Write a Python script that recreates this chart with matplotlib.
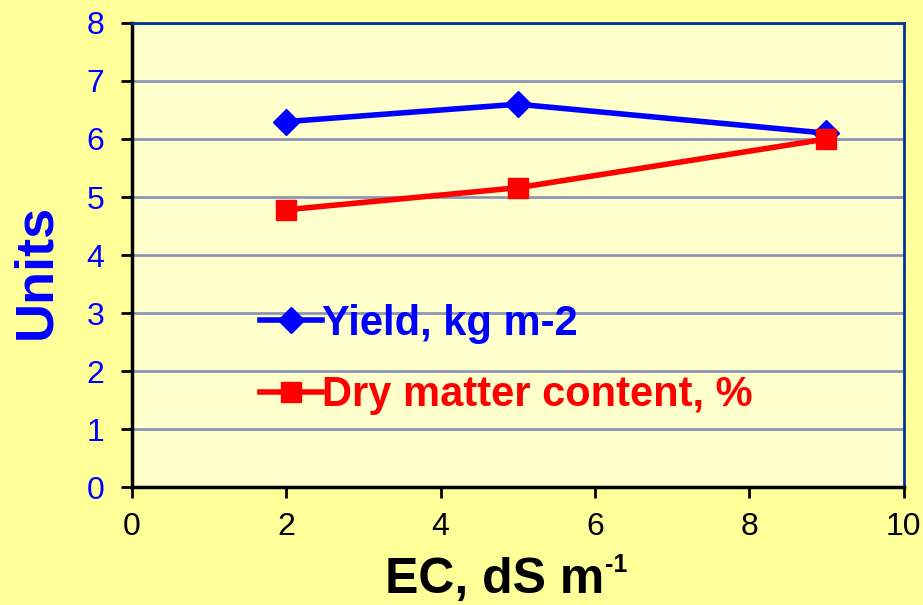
import matplotlib.pyplot as plt

ec = [2, 5, 9]
yield_kg = [6.3, 6.6, 6.1]
dry_matter = [4.78, 5.16, 6.0]
x_ticks = [0, 2, 4, 6, 8, 10]
y_ticks = [0, 1, 2, 3, 4, 5, 6, 7, 8]

fig = plt.figure(figsize=(9.23, 6.05), dpi=100, facecolor='#FFFF99')
ax = fig.add_axes([0.143, 0.195, 0.836, 0.767])
ax.set_facecolor('#FFFFCC')

ax.plot(ec, yield_kg, color='#0000FF', lw=4, marker='D', ms=13, label='Yield, kg m-2', zorder=3)
ax.plot(ec, dry_matter, color='#FF0000', lw=4, marker='s', ms=14, label='Dry matter content, %', zorder=3)

ax.set_xlim(0, 10)
ax.set_ylim(0, 8)
ax.set_xticks(x_ticks)
ax.set_yticks(y_ticks)
ax.grid(axis='y', color='#8C96B4', lw=2)
ax.set_axisbelow(True)

for s in ['left', 'bottom']:
    ax.spines[s].set_color('black')
    ax.spines[s].set_linewidth(2.5)
for s in ['top', 'right']:
    ax.spines[s].set_color('#003399')
    ax.spines[s].set_linewidth(2)

ax.tick_params(axis='both', direction='out', length=8, width=2, color='black')
ax.tick_params(axis='y', pad=12)
ax.tick_params(axis='x', pad=10)
for lab in ax.get_yticklabels():
    lab.set_family('Liberation Sans')
    lab.set_fontsize(23)
    lab.set_color('#0000FF')
for lab in ax.get_xticklabels():
    lab.set_family('Liberation Sans')
    lab.set_fontsize(23)
    lab.set_color('black')

ax.set_ylabel('Units', fontsize=39, fontweight='bold', color='#0000FF', family='Liberation Sans')
ax.yaxis.set_label_coords(-0.092, 0.465)

# x label with a superscript placed right after it
xl = fig.text(0.417, 0.02, 'EC, dS m', fontsize=36, fontweight='bold', family='Liberation Sans',
              ha='left', va='baseline')
r = fig.canvas.get_renderer()
bb = xl.get_window_extent(r)
fig.text((bb.x1 + 1) / fig.bbox.width, 0.086, '-1', fontsize=18,
         fontweight='bold', family='Liberation Sans', ha='left', va='top')

leg = ax.legend(loc='center left', bbox_to_anchor=(0.117, 0.275), frameon=False,
                prop={'family': 'Liberation Sans', 'weight': 'bold', 'size': 30},
                handlelength=1.5, handletextpad=0.0, labelspacing=0.76, labelcolor='linecolor')

fig.savefig('out.png', dpi=100, facecolor=fig.get_facecolor())
